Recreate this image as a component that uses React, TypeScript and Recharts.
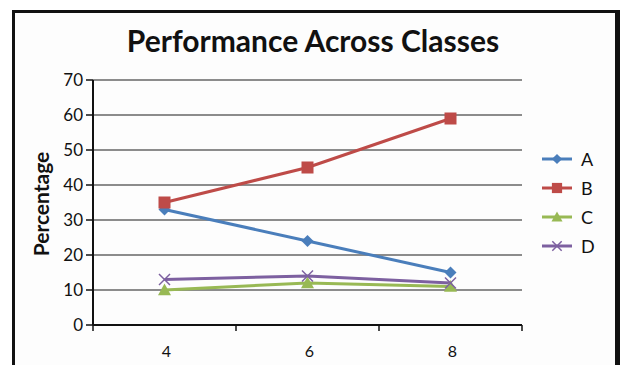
import React from 'react';
import { LineChart, Line, XAxis, YAxis, CartesianGrid, Legend } from 'recharts';

const classes = [4, 6, 8];
const seriesA = [33, 24, 15];
const seriesB = [35, 45, 59];
const seriesC = [10, 12, 11];
const seriesD = [13, 14, 12];
const yTicks = [0, 10, 20, 30, 40, 50, 60, 70];
const xTicks = [3, 4, 5, 6, 7, 8, 9];
const seriesNames = ['A', 'B', 'C', 'D'];
const colors = ['#4A7EBB', '#BE4B48', '#98B954', '#7D60A0'];

const data = classes.map((c, i) => ({
  cls: c,
  A: seriesA[i],
  B: seriesB[i],
  C: seriesC[i],
  D: seriesD[i],
}));

const FONT = 'Lato, "Open Sans", sans-serif';

const Marker = ({ kind, cx, cy, color, scale = 1 }: any) => {
  if (cx == null || cy == null) return null;
  if (kind === 'A') {
    const s = 6 * scale;
    return <polygon points={`${cx},${cy - s} ${cx + s},${cy} ${cx},${cy + s} ${cx - s},${cy}`} fill={color} />;
  }
  if (kind === 'B') {
    const s = 6 * scale;
    return <rect x={cx - s} y={cy - s} width={2 * s} height={2 * s} fill={color} />;
  }
  if (kind === 'C') {
    const s = 6.5 * scale;
    return <polygon points={`${cx},${cy - s} ${cx + s},${cy + s * 0.8} ${cx - s},${cy + s * 0.8}`} fill={color} />;
  }
  const s = 5.5 * scale;
  return (
    <g stroke={color} strokeWidth={1.5}>
      <line x1={cx - s} y1={cy - s} x2={cx + s} y2={cy + s} />
      <line x1={cx - s} y1={cy + s} x2={cx + s} y2={cy - s} />
    </g>
  );
};

const makeDot = (kind: string, color: string) => (props: any) => (
  <Marker key={`${kind}-${props.index}`} kind={kind} cx={props.cx} cy={props.cy} color={color} />
);

const XTick = (props: any) => {
  const { x, y, payload } = props;
  const v = payload.value;
  if (classes.includes(v)) {
    return (
      <text x={x + 2} y={y + 32} textAnchor="middle" fontFamily={FONT} fontSize={16} fill="#111">
        {v}
      </text>
    );
  }
  return <line x1={x} x2={x} y1={y} y2={y + 6} stroke="#111" strokeWidth={1.5} />;
};

const LegendContent = () => (
  <div style={{ fontFamily: FONT, fontSize: 18, color: '#111' }}>
    {seriesNames.map((n, i) => (
      <div key={n} style={{ display: 'flex', alignItems: 'center', height: 29 }}>
        <svg width={34} height={16} style={{ marginRight: 7 }}>
          <line x1={2} x2={32} y1={8} y2={8} stroke={colors[i]} strokeWidth={3} />
          <Marker kind={n} cx={17} cy={8} color={colors[i]} scale={0.85} />
        </svg>
        <span>{n}</span>
      </div>
    ))}
  </div>
);

export default function App() {
  return (
    <div style={{ position: 'absolute', left: 0, top: 0, width: 620, height: 365, overflow: 'hidden', background: '#fff' }}>
      <div
        style={{
          position: 'absolute',
          left: 12,
          top: 10,
          width: 608,
          height: 400,
          boxSizing: 'border-box',
          borderTop: '3px solid #111',
          borderLeft: '3px solid #111',
          borderRight: '5px solid #111',
          background: '#fdfdfd',
        }}
      />
      <div
        style={{
          position: 'absolute',
          left: 0,
          top: 22,
          width: 626,
          textAlign: 'center',
          fontFamily: FONT,
          fontWeight: 700,
          fontSize: 30,
          color: '#111',
        }}
      >
        Performance Across Classes
      </div>
      <div
        style={{
          position: 'absolute',
          left: 40,
          top: 204,
          transform: 'translate(-50%, -50%) rotate(-90deg)',
          fontFamily: FONT,
          fontWeight: 700,
          fontSize: 21,
          color: '#111',
          whiteSpace: 'nowrap',
        }}
      >
        Percentage
      </div>
      <div style={{ position: 'absolute', left: 0, top: 0 }}>
        <LineChart
          width={620}
          height={365}
          data={data}
          margin={{ top: 80, right: 98, bottom: 10, left: 53 }}
        >
          <CartesianGrid horizontal vertical={false} stroke="#666" strokeWidth={1.5} />
          <XAxis
            dataKey="cls"
            type="number"
            domain={[3, 9]}
            ticks={xTicks}
            interval={0}
            height={30}
            tickSize={0}
            tickMargin={0}
            tickLine={false}
            tick={<XTick />}
            axisLine={{ stroke: '#111', strokeWidth: 2 }}
          />
          <YAxis
            domain={[0, 70]}
            ticks={yTicks}
            interval={0}
            width={40}
            tickSize={7}
            tickMargin={3}
            tickLine={{ stroke: '#111', strokeWidth: 1.5 }}
            axisLine={{ stroke: '#111', strokeWidth: 2 }}
            tick={{ fontFamily: FONT, fontSize: 17, fill: '#111' }}
          />
          <Legend
            layout="vertical"
            align="center"
            verticalAlign="middle"
            content={<LegendContent />}
            wrapperStyle={{ position: 'absolute', left: 540, top: 144, width: 70 }}
          />
          <Line type="linear" dataKey="A" stroke={colors[0]} strokeWidth={3} dot={makeDot('A', colors[0])} isAnimationActive={false} />
          <Line type="linear" dataKey="B" stroke={colors[1]} strokeWidth={3} dot={makeDot('B', colors[1])} isAnimationActive={false} />
          <Line type="linear" dataKey="C" stroke={colors[2]} strokeWidth={3} dot={makeDot('C', colors[2])} isAnimationActive={false} />
          <Line type="linear" dataKey="D" stroke={colors[3]} strokeWidth={3} dot={makeDot('D', colors[3])} isAnimationActive={false} />
        </LineChart>
      </div>
    </div>
  );
}
